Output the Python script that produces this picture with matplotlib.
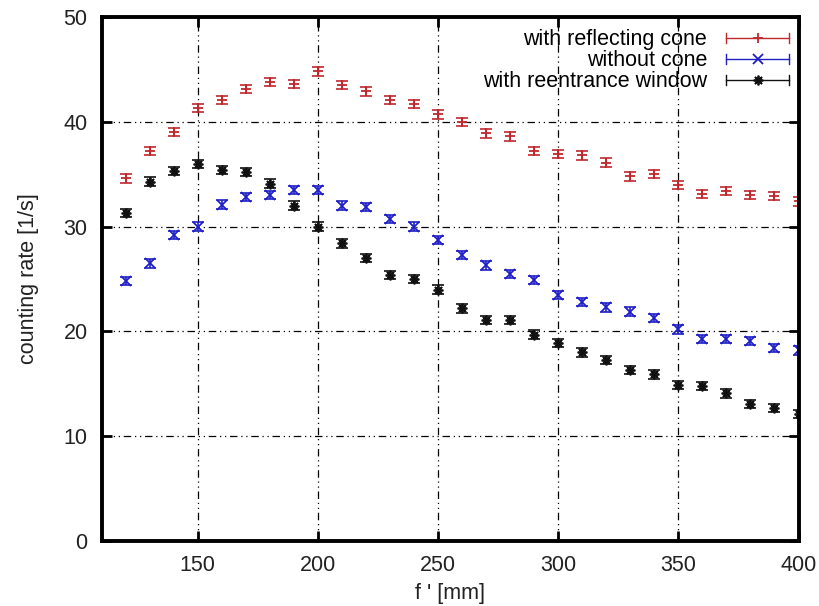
import matplotlib
matplotlib.use("Agg")
import matplotlib.pyplot as plt
from matplotlib.legend_handler import HandlerBase
from matplotlib.lines import Line2D

plt.rcParams['font.family'] = ['Liberation Sans', 'DejaVu Sans']

# f' in mm
f_mm = [120, 130, 140, 150, 160, 170, 180, 190, 200, 210, 220, 230, 240, 250,
        260, 270, 280, 290, 300, 310, 320, 330, 340, 350, 360, 370, 380, 390, 400]

rate_cone = [34.6, 37.2, 39.0, 41.3, 42.1, 43.1, 43.8, 43.6, 44.8, 43.5, 42.9, 42.1,
             41.7, 40.7, 40.0, 38.9, 38.6, 37.2, 36.9, 36.8, 36.1, 34.8, 35.0, 34.0,
             33.1, 33.4, 33.0, 32.9, 32.4]
rate_nocone = [24.8, 26.5, 29.2, 30.0, 32.1, 32.8, 33.0, 33.5, 33.5, 32.0, 31.9, 30.7,
               30.0, 28.7, 27.3, 26.3, 25.5, 24.9, 23.5, 22.8, 22.3, 21.9, 21.3, 20.2,
               19.3, 19.3, 19.1, 18.4, 18.2]
rate_window = [31.3, 34.3, 35.3, 36.0, 35.4, 35.2, 34.1, 32.0, 30.0, 28.4, 27.0, 25.4,
               25.0, 24.0, 22.2, 21.1, 21.1, 19.7, 18.9, 18.0, 17.3, 16.3, 15.9, 14.9,
               14.8, 14.1, 13.1, 12.7, 12.1]
err = 0.4

labels = ["with reflecting cone", "without cone", "with reentrance window"]
colors = ["#c0282d", "#1f1fc8", "#111111"]
markers = ["+", "x", (8, 2, 0)]  # gnuplot point types 1, 2, 3


class HandlerGnu(HandlerBase):
    # gnuplot-like key sample: horizontal bar with end caps, point in the middle
    def create_artists(self, legend, orig_handle, xdescent, ydescent,
                       width, height, fontsize, trans):
        c = orig_handle.get_color()
        m = orig_handle.get_marker()
        y = height / 2 - ydescent
        x0, x1 = -xdescent, width - xdescent
        h = height * 0.32
        arts = [Line2D([x0, x1], [y, y], color=c, lw=1),
                Line2D([x0, x0], [y - h, y + h], color=c, lw=1),
                Line2D([x1, x1], [y - h, y + h], color=c, lw=1),
                Line2D([(x0 + x1) / 2], [y], color=c, marker=m, ms=7, mew=1.3)]
        for a in arts:
            a.set_transform(trans)
        return arts


fig = plt.figure(figsize=(8.19, 6.06), dpi=100)
ax = fig.add_axes([0.124, 0.107, 0.851, 0.865])

handles = []
for ys, c, m in zip([rate_cone, rate_nocone, rate_window], colors, markers):
    ax.errorbar(f_mm, ys, yerr=err, fmt='none', ecolor=c, elinewidth=1.2,
                capsize=4, capthick=1.2)
    ax.plot(f_mm, ys, ls='none', marker=m, color=c, ms=7, mew=1.3)
    handles.append(Line2D([], [], color=c, marker=m))

ax.set_xlim(110, 400)
ax.set_ylim(0, 50)
ax.set_xticks([150, 200, 250, 300, 350, 400])
ax.set_yticks([0, 10, 20, 30, 40, 50])
ax.grid(True, color='black', ls=(0, (6, 3, 1, 3, 1, 3)), lw=0.9)
ax.tick_params(direction='in', length=7, width=2, top=True, right=True,
               labelsize=15.5, pad=10, colors='black', labelcolor='#222222')
for s in ax.spines.values():
    s.set_linewidth(2.8)

ax.set_xlabel("f ' [mm]", fontsize=15.5, labelpad=5, color='#222222')
ax.set_ylabel("counting rate [1/s]", fontsize=15.5, labelpad=18, color='#222222')

ax.legend(handles, labels, handler_map={Line2D: HandlerGnu()}, loc='upper right',
          frameon=False, markerfirst=False, fontsize=15.5, handlelength=2.9,
          handletextpad=0.9, labelspacing=0.0, borderaxespad=0.05,
          bbox_to_anchor=(1.0, 0.995))

fig.savefig("out.png", dpi=100)
